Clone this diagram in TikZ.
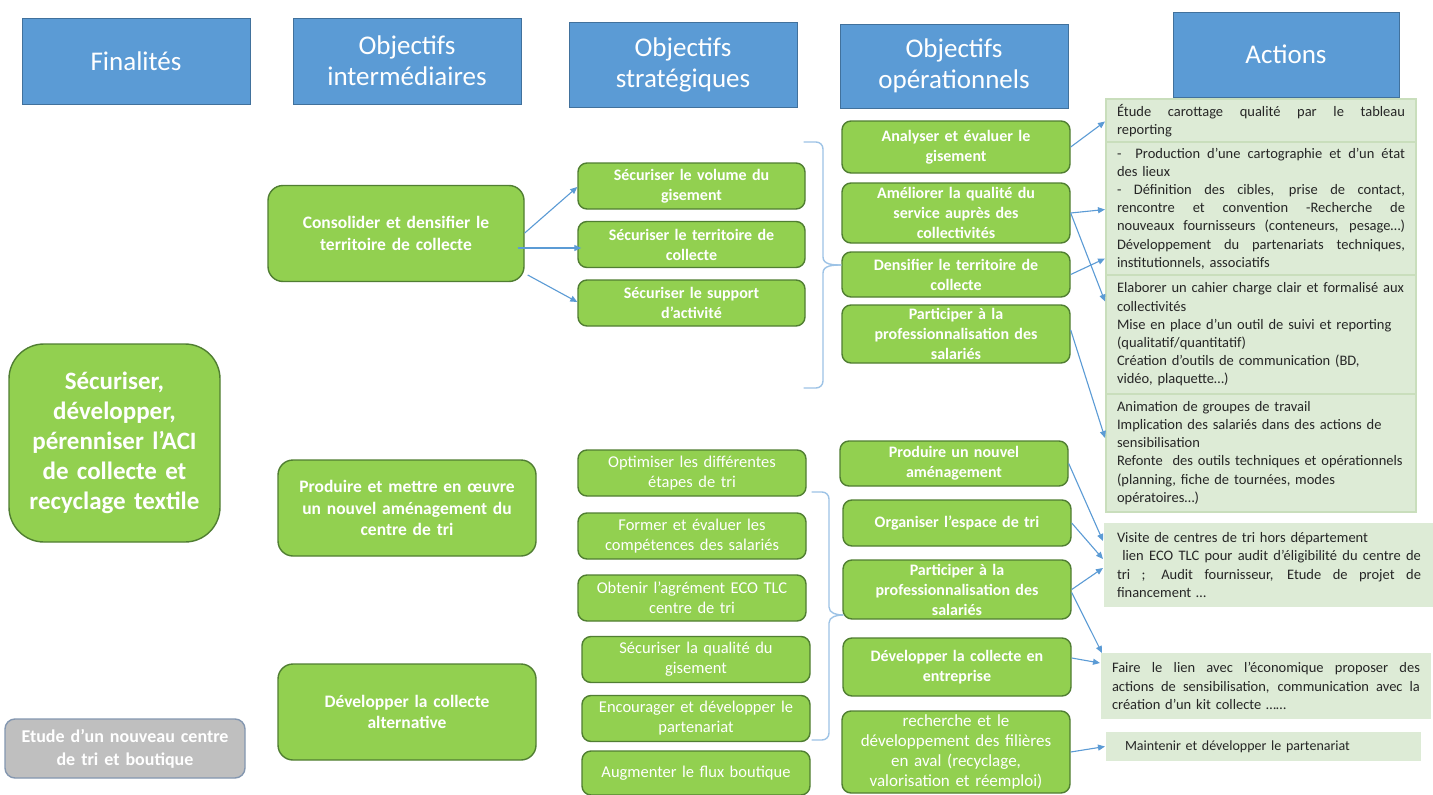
\documentclass[tikz,border=0pt]{standalone}
\usepackage{fontspec}
\setmainfont{Carlito}
\usetikzlibrary{arrows.meta,calc}
\definecolor{hblue}{HTML}{5B9BD5}
\definecolor{hblueb}{HTML}{41719C}
\definecolor{gfill}{HTML}{92D050}
\definecolor{gdraw}{HTML}{507E32}
\definecolor{afill}{HTML}{DDEBD6}
\definecolor{adraw}{HTML}{C9DEBC}
\definecolor{arrc}{HTML}{5B9BD5}
\definecolor{bracec}{HTML}{9DC3E6}
\definecolor{greyf}{HTML}{BFBFBF}
\definecolor{greyd}{HTML}{8497B0}
\definecolor{atext}{HTML}{262626}
\newcommand\jl[2][288pt]{\leavevmode\hbox to #1{\spaceskip=0.22em plus 1fil\relax\xspaceskip=\spaceskip #2}}
\begin{document}
\begin{tikzpicture}[x=1pt,y=-1pt,
 hdr/.style={rectangle, fill=hblue, draw=hblueb, line width=0.8, text=white, font=\fontsize{27}{31}\selectfont, align=center, inner sep=0},
 gbox/.style={rectangle, rounded corners=9, fill=gfill, draw=gdraw, line width=1.4, text=white, align=center, inner sep=0},
 bt/.style={font=\bfseries\fontsize{16}{20}\selectfont},
 rt/.style={font=\fontsize{16.5}{20}\selectfont},
 it/.style={font=\bfseries\fontsize{17.5}{21.5}\selectfont},
 abox/.style={rectangle, fill=afill, draw=adraw, line width=2, text=atext, align=left, inner xsep=11, inner ysep=2, font=\fontsize{14.5}{18.2}\selectfont, anchor=north west},
 arr/.style={draw=arrc, line width=1.1, -{Triangle[length=7,width=6]}},
 bracestyle/.style={draw=bracec, line width=1.4, line cap=round}
]
\fill[white] (0,0) rectangle (1433,795);
\useasboundingbox (0,0) rectangle (1433,795);

% headers
\node[hdr, minimum width=228, minimum height=86, text width=224] (hF) at (136,61) {Finalités};
\node[hdr, minimum width=228, minimum height=86, text width=224] (hI) at (407,61) {Objectifs\\intermédiaires};
\node[hdr, minimum width=228, minimum height=85, text width=224] (hS) at (683,64.5) {Objectifs\\stratégiques};
\node[hdr, minimum width=228, minimum height=84, text width=224] (hO) at (954,66) {Objectifs\\opérationnels};
\node[hdr, minimum width=226, minimum height=85, text width=222] (hA) at (1286,54.5) {Actions};

% finalite
\node[gbox, rounded corners=35, minimum width=211, minimum height=198, text width=207, font=\bfseries\fontsize{25}{30}\selectfont] (fin) at (114.5,443) {Sécuriser,\\développer,\\pérenniser l’ACI\\de collecte et\\recyclage textile};
\node[gbox, rounded corners=10, fill=greyf, draw=greyd, minimum width=240, minimum height=59, text width=236, font=\bfseries\fontsize{18}{23}\selectfont] (etude) at (125,748.5) {Etude d’un nouveau centre\\de tri et boutique};

% intermediate
\node[gbox, it, rounded corners=15, minimum width=256, minimum height=96, text width=250] (cons) at (396,233.5) {Consolider et densifier le\\territoire de collecte};
\node[gbox, it, rounded corners=15, minimum width=258, minimum height=96, text width=252] (prod) at (407,508) {Produire et mettre en œuvre\\un nouvel aménagement du\\centre de tri};
\node[gbox, it, rounded corners=15, minimum width=258, minimum height=96, text width=252] (alt) at (407,712) {Développer la collecte\\alternative};

% strategic
\node[gbox, bt, minimum width=227, minimum height=46, text width=223] (s1) at (691.5,186) {Sécuriser le volume du\\gisement};
\node[gbox, bt, minimum width=227, minimum height=46, text width=223] (s2) at (691.5,244.5) {Sécuriser le territoire de\\collecte};
\node[gbox, bt, minimum width=227, minimum height=46, text width=223] (s3) at (691.5,303) {Sécuriser le support\\d’activité};
\node[gbox, rt, minimum width=228, minimum height=46, text width=224] (s4) at (692,473) {Optimiser les différentes\\étapes de tri};
\node[gbox, rt, minimum width=228, minimum height=46, text width=224] (s5) at (692,536) {Former et évaluer les\\compétences des salariés};
\node[gbox, rt, minimum width=228, minimum height=46, text width=224] (s6) at (692,598) {Obtenir l’agrément ECO TLC\\centre de tri};
\node[gbox, rt, minimum width=228, minimum height=46, text width=224] (s7) at (696,659.5) {Sécuriser la qualité du\\gisement};
\node[gbox, rt, minimum width=228, minimum height=46, text width=224] (s8) at (696,718.5) {Encourager et développer le\\partenariat};
\node[gbox, rt, minimum width=228, minimum height=44, text width=224] (s9) at (696,773) {Augmenter le flux boutique};

% operational
\node[gbox, bt, minimum width=228, minimum height=52, text width=224] (o1) at (956,147) {Analyser et évaluer le\\gisement};
\node[gbox, bt, minimum width=228, minimum height=60, text width=224] (o2) at (956,213) {Améliorer la qualité du\\service auprès des\\collectivités};
\node[gbox, bt, minimum width=228, minimum height=45, text width=224] (o3) at (956,274.5) {Densifier le territoire de\\collecte};
\node[gbox, bt, minimum width=228, minimum height=58, text width=224] (o4) at (956,334) {Participer à la\\professionnalisation des\\salariés};
\node[gbox, bt, minimum width=228, minimum height=45, text width=224] (o5) at (954,463.5) {Produire un nouvel\\aménagement};
\node[gbox, bt, minimum width=228, minimum height=46, text width=224] (o6) at (957,523) {Organiser l’espace de tri};
\node[gbox, bt, minimum width=228, minimum height=59, text width=224] (o7) at (957,589.5) {Participer à la\\professionnalisation des\\salariés};
\node[gbox, bt, minimum width=228, minimum height=58, text width=224] (o8) at (957,667) {Développer la collecte en\\entreprise};
\node[gbox, minimum width=228, minimum height=82, text width=224, font=\fontsize{17}{20}\selectfont] (o9) at (956,752) {recherche et le\\développement des filières\\en aval (recyclage,\\valorisation et réemploi)};

% actions
\node[abox, minimum width=310, minimum height=43, text width=288] (a1) at (1105,98) {\jl{Étude carottage qualité par le tableau}\\reporting};
\node[abox, minimum width=310, minimum height=133, text width=288] (a2) at (1105,141) {\jl{-\ \ Production d’une cartographie et d’un état}\\des lieux\\\jl{- Définition des cibles, prise de contact,}\\\jl{rencontre et convention -Recherche de}\\\jl{nouveaux fournisseurs (conteneurs, pesage…)}\\\jl{Développement du partenariats techniques,}\\institutionnels, associatifs};
\node[abox, minimum width=310, minimum height=119, text width=288] (a3) at (1105,274) {Elaborer un cahier charge clair et formalisé aux\\collectivités\\Mise en place d’un outil de suivi et reporting\\(qualitatif/quantitatif)\\Création d’outils de communication (BD,\\vidéo, plaquette…)};
\node[abox, minimum width=310, minimum height=118, text width=288] (a4) at (1105,393) {Animation de groupes de travail\\Implication des salariés dans des actions de\\sensibilisation\\Refonte\ \ des outils techniques et opérationnels\\(planning, fiche de tournées, modes\\opératoires…)};
\node[abox, draw=none, minimum width=330, minimum height=84, text width=304] (a5) at (1103,522) {Visite de centres de tri hors département\\\jl[304pt]{\ lien ECO TLC pour audit d’éligibilité du centre de}\\\jl[304pt]{tri ; Audit fournisseur, Etude de projet de}\\financement …};
\node[abox, draw=none, minimum width=330, minimum height=66, text width=308] (a6) at (1100,652) {\jl[308pt]{Faire le lien avec l’économique proposer des}\\\jl[308pt]{actions de sensibilisation, communication avec la}\\création d’un kit collecte ……};
\node[abox, draw=none, inner xsep=19, minimum width=315, minimum height=29, text width=277, font=\fontsize{14}{18}\selectfont] (a7) at (1105,731) {Maintenir et développer le partenariat};

% arrows intermediate -> strategic
\draw[arr] ([yshift=0.5]cons.east) -- ([yshift=-1]s1.west);
\draw[arr] ([xshift=-7,yshift=-14.5]cons.east) -- ([xshift=4,yshift=-3.5]s2.west);
\draw[arr] ([xshift=3,yshift=-41.5]cons.east) -- ([yshift=1]s3.west);

% arrows operational -> actions
\draw[arr] (o1.east) -- ([yshift=-1]a1.west);
\draw[arr] (o2.east) -- ([yshift=-1]a2.west);
\draw[arr] (o2.east) -- ([yshift=33]a3.west);
\draw[arr] (o3.east) -- ([yshift=-50]a2.west);
\draw[arr] ([yshift=4]o4.east) -- ([yshift=15]a4.west);
\draw[arr] (o5.east) -- ([yshift=24]a5.west);
\draw[arr] (o6.east) -- ([yshift=6]a5.west);
\draw[arr] (o7.east) -- ([yshift=-3]a5.west);
\draw[arr] ([yshift=-3]o7.east) -- ([xshift=2,yshift=-1]a6.north west);
\draw[arr] ([yshift=9]o8.east) -- ([yshift=23]a6.west);
\draw[arr] (o9.east) -- (a7.west);

% braces
\coordinate (b1t) at (804,142);
\coordinate (b1b) at (804,388);
\coordinate (b1p) at (841,265);
\draw[bracestyle] (b1t) -- (816,142) to[out=0,in=90] (823,149) -- (823,257) to[out=-90,in=180] (b1p);
\draw[bracestyle] (b1p) to[out=180,in=90] (823,273) -- (823,381) to[out=-90,in=0] (816,388) -- (b1b);
\coordinate (b2t) at (812,492);
\coordinate (b2b) at (812,740);
\coordinate (b2p) at (843,615);
\draw[bracestyle] (b2t) -- (822,492) to[out=0,in=90] (829,499) -- (829,607) to[out=-90,in=180] (b2p);
\draw[bracestyle] (b2p) to[out=180,in=90] (829,623) -- (829,733) to[out=-90,in=0] (822,740) -- (b2b);
\end{tikzpicture}
\end{document}
